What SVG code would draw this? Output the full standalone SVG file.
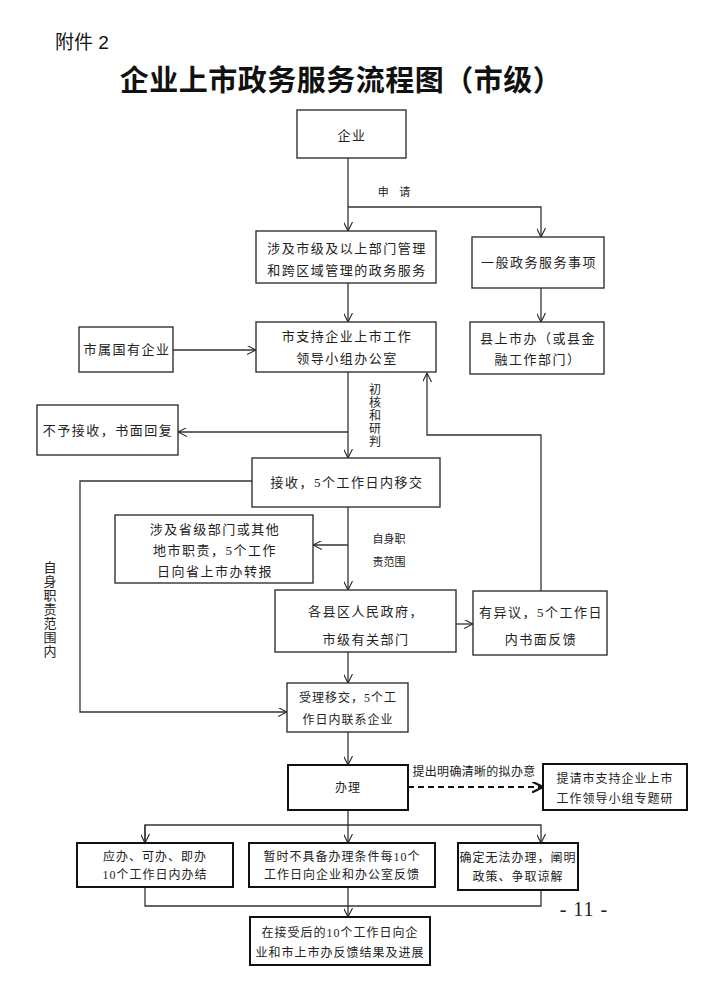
<svg xmlns="http://www.w3.org/2000/svg" width="720" height="983" viewBox="0 0 720 983">
<defs>
<marker id="arr" viewBox="0 0 10 10" refX="10" refY="5" markerWidth="9" markerHeight="9" markerUnits="userSpaceOnUse" orient="auto">
<path d="M0,0 L10,5 L0,10" fill="none" stroke="#222" stroke-width="1.2"/>
</marker>
<marker id="arrB" viewBox="0 0 10 10" refX="10" refY="5" markerWidth="11" markerHeight="11" markerUnits="userSpaceOnUse" orient="auto">
<path d="M0,0 L10,5 L0,10" fill="none" stroke="#111" stroke-width="2"/>
</marker>
</defs>
<style>
.box{fill:#fff;stroke:#333;stroke-width:1.4}
.boxB{fill:#fff;stroke:#111;stroke-width:2}
.t{font-family:"Liberation Serif","Noto Sans CJK SC",serif;font-size:13px;fill:#222;text-anchor:middle;letter-spacing:1.5px}
.ts{font-family:"Liberation Serif","Noto Sans CJK SC",serif;font-size:12px;fill:#222;text-anchor:middle;letter-spacing:1px}
.lbl{font-family:"Liberation Serif","Noto Sans CJK SC",serif;font-size:11px;fill:#222;text-anchor:middle}
.c{fill:none;stroke:#333;stroke-width:1.3}
</style>
<rect width="720" height="983" fill="#fff"/>
<text x="55" y="49" style="font-family:'Liberation Sans','Noto Sans CJK SC',sans-serif;font-size:19px;fill:#111">附件 2</text>
<text x="341" y="91" style="font-family:'Liberation Serif','Noto Sans CJK SC',serif;font-size:29px;font-weight:bold;fill:#111;text-anchor:middle;letter-spacing:0.5px">企业上市政务服务流程图（市级）</text>

<g id="connectors">
<path class="c" d="M348,158 V231" marker-end="url(#arr)"/>
<path class="c" d="M348,207 H541 V237" marker-end="url(#arr)"/>
<path class="c" d="M348,283 V322" marker-end="url(#arr)"/>
<path class="c" d="M541,288 V322" marker-end="url(#arr)"/>
<path class="c" d="M173,350 H256" marker-end="url(#arr)"/>
<path class="c" d="M348,372 V458" marker-end="url(#arr)"/>
<path class="c" d="M348,432 H178" marker-end="url(#arr)"/>
<path class="c" d="M252,481 H80 V712 H287" marker-end="url(#arr)"/>
<path class="c" d="M348,507 V590" marker-end="url(#arr)"/>
<path class="c" d="M348,545 H313" marker-end="url(#arr)"/>
<path class="c" d="M456,624 H473" marker-end="url(#arr)"/>
<path class="c" d="M541,591 V435 H427 V373" marker-end="url(#arr)"/>
<path class="c" d="M348,652 V683" marker-end="url(#arr)"/>
<path class="c" d="M348,732 V765" marker-end="url(#arr)"/>
<path d="M408,787 H543" fill="none" stroke="#111" stroke-width="2" stroke-dasharray="6,4" marker-end="url(#arrB)"/>
<path class="c" d="M348,810 V843" marker-end="url(#arr)"/>
<path class="c" d="M145,843 V825 H541 V843" marker-end="url(#arr)"/>
<path class="c" d="M145,825 V843" marker-end="url(#arr)"/>
<path class="c" d="M145,887 V906 H541 V890"/>
<path class="c" d="M348,887 V917" marker-end="url(#arr)"/>
<text class="lbl" x="396" y="196" style="letter-spacing:4px">申 请</text>
<text class="lbl" x="375" y="394" style="font-size:12px"><tspan x="375">初</tspan><tspan x="375" dy="13">核</tspan><tspan x="375" dy="13">和</tspan><tspan x="375" dy="13">研</tspan><tspan x="375" dy="13">判</tspan></text>
<text class="lbl" x="389" y="543">自身职</text>
<text class="lbl" x="389" y="566">责范围</text>
<text class="t" x="50" y="572" style="letter-spacing:0"><tspan x="50">自</tspan><tspan x="50" dy="14">身</tspan><tspan x="50" dy="14">职</tspan><tspan x="50" dy="14">责</tspan><tspan x="50" dy="14">范</tspan><tspan x="50" dy="14">围</tspan><tspan x="50" dy="14">内</tspan></text>
<text class="ts" x="474" y="776" style="letter-spacing:0.3px">提出明确清晰的拟办意</text>
</g>

<g id="n-qiye"><rect class="box" x="297" y="110" width="109" height="48"/><text class="t" x="352" y="140">企业</text></g>
<g id="n-shiji"><rect class="box" x="256" y="231" width="180" height="52"/><text class="t" x="347" y="253">涉及市级及以上部门管理</text><text class="t" x="347" y="275">和跨区域管理的政务服务</text></g>
<g id="n-yiban"><rect class="box" x="472" y="237" width="132" height="51"/><text class="t" x="539" y="267">一般政务服务事项</text></g>
<g id="n-shushu"><rect class="box" x="79" y="327" width="94" height="45"/><text class="t" x="127" y="354">市属国有企业</text></g>
<g id="n-lingdao"><rect class="box" x="256" y="322" width="180" height="50"/><text class="t" x="347" y="341">市支持企业上市工作</text><text class="t" x="347" y="363">领导小组办公室</text></g>
<g id="n-xian"><rect class="box" x="470" y="322" width="134" height="52"/><text class="t" x="538" y="343">县上市办（或县金</text><text class="t" x="538" y="364">融工作部门）</text></g>
<g id="n-buyu"><rect class="box" x="37" y="405" width="141" height="50"/><text class="t" x="108" y="435">不予接收，书面回复</text></g>
<g id="n-jieshou"><rect class="box" x="252" y="458" width="188" height="49"/><text class="t" x="347" y="487">接收，5个工作日内移交</text></g>
<g id="n-sheng"><rect class="box" x="115" y="515" width="198" height="68"/><text class="t" x="215" y="534">涉及省级部门或其他</text><text class="t" x="215" y="555">地市职责，5个工作</text><text class="t" x="215" y="576">日向省上市办转报</text></g>
<g id="n-gexian"><rect class="box" x="275" y="590" width="181" height="62"/><text class="t" x="366" y="616">各县区人民政府，</text><text class="t" x="366" y="644">市级有关部门</text></g>
<g id="n-yiyi"><rect class="box" x="473" y="591" width="134" height="64"/><text class="t" x="541" y="617">有异议，5个工作日</text><text class="t" x="541" y="644">内书面反馈</text></g>
<g id="n-shouli"><rect class="box" x="287" y="683" width="121" height="49"/><text class="ts" x="348" y="702">受理移交，5个工</text><text class="ts" x="348" y="724">作日内联系企业</text></g>
<g id="n-banli"><rect class="boxB" x="288" y="765" width="120" height="45"/><text class="ts" x="348" y="792">办理</text></g>
<g id="n-tiqing"><rect class="boxB" x="543" y="764" width="144" height="46"/><text class="ts" x="615" y="783">提请市支持企业上市</text><text class="ts" x="615" y="803">工作领导小组专题研</text></g>
<g id="n-yingban"><rect class="boxB" x="77" y="843" width="156" height="44"/><text class="ts" x="155" y="861">应办、可办、即办</text><text class="ts" x="155" y="879">10个工作日内办结</text></g>
<g id="n-zanshi"><rect class="boxB" x="249" y="843" width="186" height="44"/><text class="ts" x="342" y="861">暂时不具备办理条件每10个</text><text class="ts" x="342" y="879">工作日向企业和办公室反馈</text></g>
<g id="n-queding"><rect class="boxB" x="458" y="843" width="120" height="47"/><text class="ts" x="518" y="862">确定无法办理，阐明</text><text class="ts" x="518" y="881">政策、争取谅解</text></g>
<g id="n-fankui"><rect class="boxB" x="250" y="917" width="180" height="48"/><text class="ts" x="340" y="937">在接受后的10个工作日向企</text><text class="ts" x="340" y="957">业和市上市办反馈结果及进展</text></g>
<text x="584" y="916" style="font-family:'Liberation Serif',serif;font-size:20px;fill:#222;text-anchor:middle;letter-spacing:1px">- 11 -</text>
</svg>
